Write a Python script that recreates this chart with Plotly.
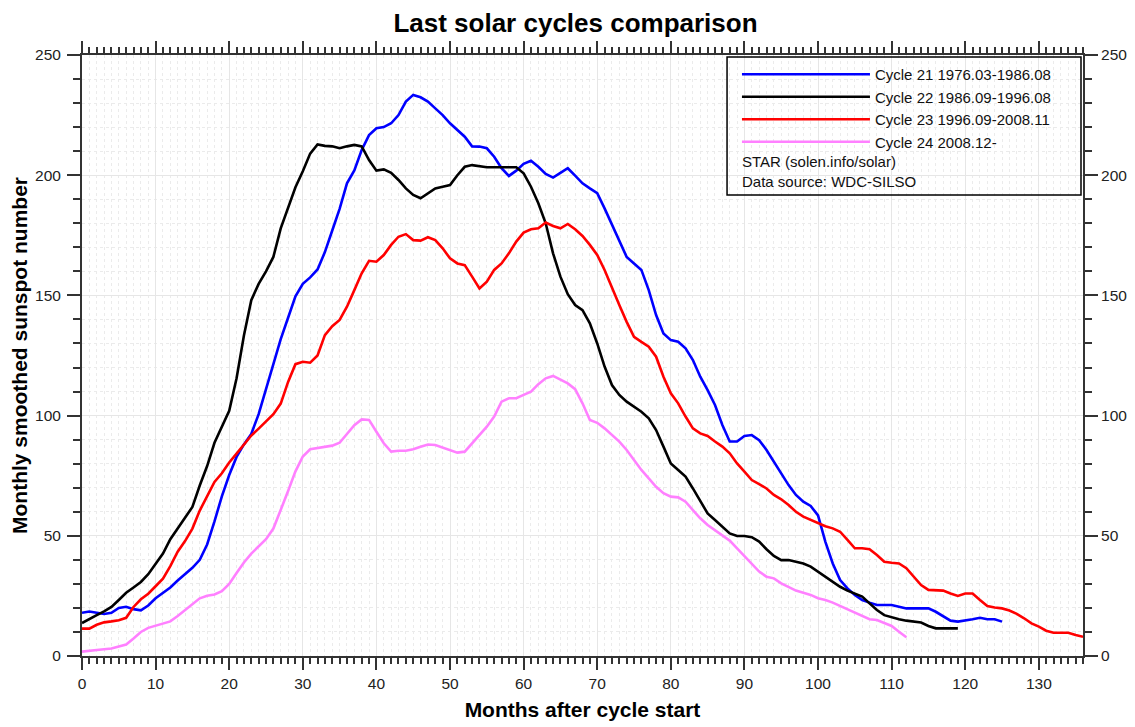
import plotly.graph_objects as go

# ---- data ----
cycle21_name = "Cycle 21 1976.03-1986.08"
cycle21 = [18, 18.5, 18, 17.5, 18, 20, 20.5, 19.5, 19, 21, 24, 26.3, 28.5, 31.4, 34, 36.7, 40, 46.4, 56, 66.4,
           75.3, 82.8, 88, 92.4, 100.6, 111, 121.4, 131.8, 140.7, 149.6, 154.8, 157.5, 160.8, 168, 177, 186, 196.6,
           202, 210.5, 216.7, 219.5, 220, 221.6, 225, 230.6, 233.4, 232.4, 230.6, 227.8, 225, 221.6, 219, 216, 212,
           211.9, 211.2, 207.7, 202.9, 199.7, 201.9, 204.7, 206, 203.5, 200.5, 199, 201, 202.9, 199.8, 196.6, 194.5,
           192.5, 186.2, 179.3, 172.3, 166, 163.3, 160.6, 152.2, 141.8, 134.2, 131.4, 130.7, 128, 123.1, 116.2,
           110.6, 104.4, 96.1, 89.2, 89.2, 91.5, 91.9, 89.8, 85.7, 80.8, 76, 71.1, 67, 64.2, 62.4, 58.5, 47.5, 38.5,
           31.6, 28.1, 25.4, 23.3, 22.2, 21.2, 21.2, 21.2, 20.5, 19.8, 19.8, 19.8, 19.8, 18.4, 16.4, 14.7, 14.3,
           14.7, 15.3, 15.9, 15.3, 15.3, 14.3]

cycle22_name = "Cycle 22 1986.09-1996.08"
cycle22 = [13.7, 15.2, 17, 18.6, 20.4, 23.3, 26.3, 28.5, 30.8, 34, 38.2, 42.6, 48.6, 53, 57.5, 62, 70.9, 79, 88.7,
           95.4, 102, 115.5, 133.3, 148, 154.8, 160, 166, 177.9, 186.8, 195, 201.6, 209, 212.8, 212.2, 212, 211.2,
           212, 212.6, 212, 206.3, 201.9, 202.4, 201, 198, 194.5, 191.8, 190.4, 192.5, 194.5, 195.2, 195.9, 200,
           203.5, 204.2, 203.8, 203.3, 203.3, 203.3, 203.5, 203.3, 200.8, 195.2, 188.3, 180, 167.5, 157.8, 150.5,
           146, 143.9, 138.4, 130, 120.4, 112.7, 108.6, 105.8, 103.7, 101.6, 98.9, 94, 87.1, 80.1, 77.4, 74.6, 69.7,
           64.2, 59.3, 56.6, 53.8, 51, 49.9, 49.9, 49.4, 47.6, 44.4, 41.6, 39.9, 39.9, 39.2, 38.5, 37.2, 35.1, 33,
           30.9, 28.8, 27.2, 26, 24.7, 21.9, 19.1, 17, 16.1, 15.3, 14.7, 14.3, 13.9, 12.5, 11.5, 11.5, 11.5, 11.5]

cycle23_name = "Cycle 23 1996.09-2008.11"
cycle23 = [11.4, 11.4, 13, 14, 14.4, 14.9, 15.9, 20.4, 23.6, 25.9, 29, 32.2, 37.4, 43.4, 47.8, 53, 60.5, 66.4,
           72.4, 76, 80.5, 84.2, 88, 91.7, 94.6, 97.6, 100.6, 105, 114, 121.4, 122.4, 122, 125, 133.5, 137.2, 139.8,
           145.3, 152.2, 159.2, 164.4, 164, 166.8, 171, 174.4, 175.5, 173, 172.8, 174.2, 173, 169.6, 165.4, 163.3,
           162.6, 157.8, 152.9, 155.7, 160.6, 163.3, 167.5, 172.4, 176.1, 177.5, 177.9, 180.3, 178.9, 177.9, 179.7,
           177.5, 174.7, 171, 166.8, 160.6, 152.9, 146, 139, 132.8, 130.7, 128.7, 124.5, 116.2, 109.3, 105.1, 99.6,
           94.7, 92.6, 91.5, 89.2, 87.1, 84.3, 80.1, 76.7, 73.2, 71.5, 69.7, 67, 65.2, 62.8, 60, 58, 56.6, 55.4, 54,
           53.1, 51.7, 48.3, 44.8, 44.8, 44.4, 42, 39.2, 38.8, 38.5, 36.5, 33, 29.5, 27.5, 27.5, 27.2, 26, 25, 26,
           26, 23.3, 20.8, 20.2, 19.8, 18.9, 17.5, 15.7, 13.6, 12.2, 10.5, 9.7, 9.7, 9.7, 8.7, 8]

cycle24_name = "Cycle 24 2008.12-"
cycle24 = [1.8, 2, 2.5, 2.8, 3.1, 4, 4.8, 7.3, 10, 11.7, 12.6, 13.2, 14.4, 16.6, 19.2, 21.8, 24, 25.1, 25.6, 27,
           30, 34.5, 38.9, 42.6, 45.6, 48.6, 53, 60.5, 68.6, 76.8, 83, 86, 86.5, 86.8, 87.5, 88.7, 92.6, 96, 98.4,
           98.2, 93.3, 88.5, 85, 85.4, 85.4, 86, 87, 88, 87.8, 86.7, 85.7, 84.6, 85, 88.5, 91.9, 95.4, 99.6, 105.8,
           107.2, 107.2, 108.6, 110, 113.1, 115.5, 116.5, 114.8, 113.4, 111, 105.1, 98.2, 97, 94.7, 91.9, 89.2,
           85.7, 81.5, 77.4, 73.9, 70.4, 67.7, 66.3, 66, 64.2, 60.7, 57.3, 54.5, 52.4, 50.3, 48, 44.8, 41.6, 38.5,
           35.1, 33, 32.3, 30.2, 28.6, 27.2, 26.3, 25.4, 24, 23.3, 22.2, 20.8, 19.4, 18, 16.4, 15.3, 15, 13.9, 12.5,
           10.1, 7.8]

series = [(cycle21_name, cycle21, "#0000ff"),
          (cycle22_name, cycle22, "#000000"),
          (cycle23_name, cycle23, "#ff0000"),
          (cycle24_name, cycle24, "#ff80ff")]

note_lines = ["STAR (solen.info/solar)", "Data source: WDC-SILSO"]
title_text = "Last solar cycles comparison"
x_title = "Months after cycle start"
y_title = "Monthly smoothed sunspot number"

FONT = "Liberation Sans, Arial, sans-serif"

fig = go.Figure()
for name, vals, color in series:
    fig.add_trace(go.Scatter(x=list(range(len(vals))), y=vals, mode="lines", name=name,
                             line=dict(color=color, width=2.6)))

# invisible copy on the right-hand axis so that the mirrored value axis is drawn
fig.add_trace(go.Scatter(x=list(range(len(cycle23))), y=cycle23, mode="lines", yaxis="y2",
                         line=dict(width=0), opacity=0, showlegend=False, hoverinfo="skip"))

axis_common = dict(showline=True, linecolor="#333333", linewidth=2, ticks="outside",
                   tickcolor="#333333", tickwidth=1.5, zeroline=False,
                   tickfont=dict(family=FONT, size=15.5, color="#222222"))

fig.update_layout(
    width=1135, height=727,
    margin=dict(l=74, r=60, t=47, b=79, autoexpand=False),
    paper_bgcolor="white", plot_bgcolor="white",
    title=dict(text="<b>" + title_text + "</b>", x=0.5, xanchor="center", y=0.979, yanchor="middle",
               font=dict(family=FONT, size=26, color="#000000")),
    xaxis=dict(range=[0, 136], dtick=10, tick0=0, ticklen=12, mirror="ticks",
               showgrid=True, gridcolor="#e6e6e6", gridwidth=1,
               minor=dict(dtick=1, ticklen=6, tickcolor="#333333", ticks="outside",
                          showgrid=True, gridcolor="#ebebeb", griddash="dot", gridwidth=1),
               title=dict(text="<b>" + x_title + "</b>", standoff=12,
                          font=dict(family=FONT, size=21, color="#000000")),
               **axis_common),
    yaxis=dict(range=[0, 250], dtick=50, tick0=0, ticklen=13, ticklabelstandoff=3,
               showgrid=True, gridcolor="#e6e6e6", gridwidth=1,
               minor=dict(dtick=10, ticklen=7, tickcolor="#333333", ticks="outside",
                          showgrid=True, gridcolor="#ebebeb", griddash="dot", gridwidth=1),
               title=dict(text="<b>" + y_title + "</b>", standoff=6,
                          font=dict(family=FONT, size=21, color="#000000")),
               **axis_common),
    yaxis2=dict(range=[0, 250], dtick=50, tick0=0, ticklen=13, ticklabelstandoff=0, overlaying="y",
                side="right", anchor="x", showgrid=False,
                minor=dict(dtick=10, ticklen=7, tickcolor="#333333", ticks="outside", showgrid=False),
                **axis_common),
    showlegend=True,
    legend=dict(x=0.6543, y=0.995, xanchor="left", yanchor="top", bgcolor="rgba(0,0,0,0)",
                borderwidth=0, itemwidth=128, tracegroupgap=0,
                font=dict(family=FONT, size=15, color="#111111")),
)

# legend frame
fig.add_shape(type="rect", xref="paper", yref="paper", x0=0.6444, x1=0.998, y0=0.767, y1=0.9967,
              line=dict(color="#000000", width=1.5), fillcolor="rgba(255,255,255,0)", layer="above")

for i, txt in enumerate(note_lines):
    fig.add_annotation(text=txt, xref="paper", yref="paper", x=0.657, y=0.8236 - i * 0.0333,
                       xanchor="left", yanchor="middle", showarrow=False,
                       font=dict(family=FONT, size=15, color="#111111"))

fig.write_html("out.html")
